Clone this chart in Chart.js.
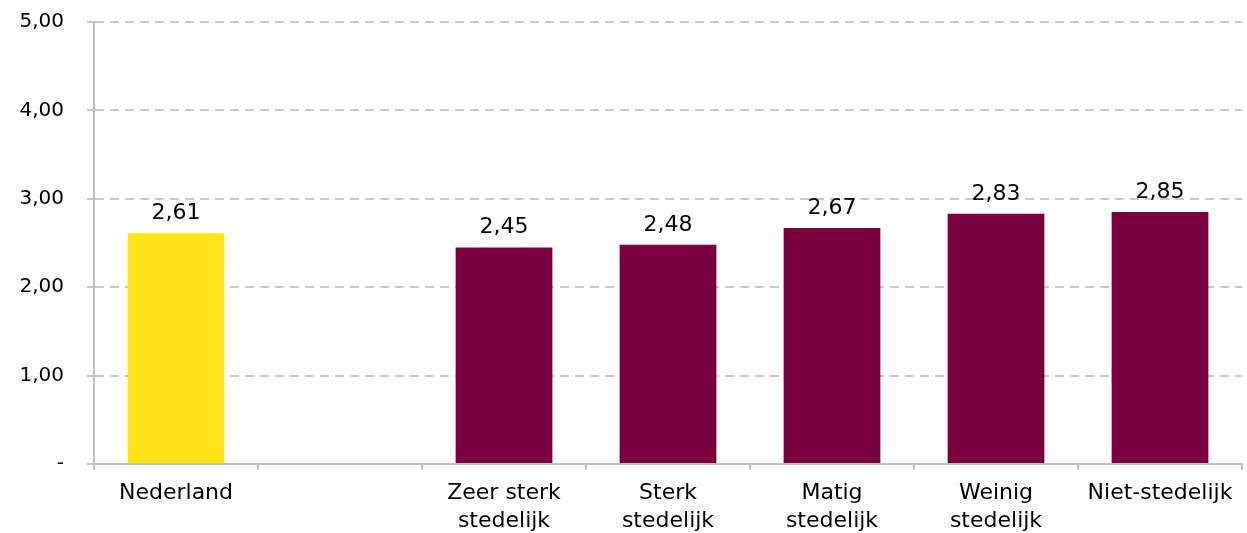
<!DOCTYPE html>
<html>
<head>
<meta charset="utf-8">
<script src="https://cdn.jsdelivr.net/npm/chart.js@4/dist/chart.umd.min.js"></script>
<style>
  html, body { margin: 0; padding: 0; background: #fff; }
  #wrap { width: 1247px; height: 533px; }
</style>
</head>
<body>
<div id="wrap"><canvas id="barChart" width="1247" height="533"></canvas></div>
<script>
const categories = [
  "Nederland",
  "",
  ["Zeer sterk", "stedelijk"],
  ["Sterk", "stedelijk"],
  ["Matig", "stedelijk"],
  ["Weinig", "stedelijk"],
  "Niet-stedelijk",
];
const values = [2.61, null, 2.45, 2.48, 2.67, 2.83, 2.85];
const barColors = ["#FFE312", "#7B0040", "#7B0040", "#7B0040", "#7B0040", "#7B0040", "#7B0040"];
const yTicks = [0, 1, 2, 3, 4, 5];

const fontFamily = "'DejaVu Sans', Verdana, sans-serif";

function fmt(v) {
  return v.toFixed(2).replace(".", ",");
}

// draws the value above each bar
const valueLabels = {
  id: "valueLabels",
  afterDatasetsDraw(chart) {
    const ctx = chart.ctx;
    const meta = chart.getDatasetMeta(0);
    ctx.save();
    ctx.font = "22px " + fontFamily;
    ctx.fillStyle = "#000";
    ctx.textAlign = "center";
    ctx.textBaseline = "alphabetic";
    meta.data.forEach((bar, i) => {
      if (values[i] === null) return;
      ctx.fillText(fmt(values[i]), bar.x, bar.y - 14);
    });
    ctx.restore();
  },
};

const ctx = document.getElementById("barChart").getContext("2d");
new Chart(ctx, {
  type: "bar",
  data: {
    labels: categories,
    datasets: [
      {
        data: values,
        backgroundColor: barColors,
        categoryPercentage: 1,
        barPercentage: 0.59,
      },
    ],
  },
  options: {
    responsive: false,
    animation: false,
    layout: { autoPadding: false, padding: { top: 22, right: 5, left: 0, bottom: 0 } },
    plugins: {
      legend: { display: false },
      tooltip: { enabled: false },
    },
    scales: {
      x: {
        offset: true,
        grid: {
          offset: true,
          drawOnChartArea: false,
          drawTicks: true,
          tickLength: 6,
          color: "#BFBFBF",
          lineWidth: 2,
        },
        border: { color: "#BFBFBF", width: 2 },
        ticks: {
          color: "#000",
          font: { family: fontFamily, size: 22, lineHeight: 1.25 },
          padding: 10,
          maxRotation: 0,
          autoSkip: false,
        },
        afterFit(scale) {
          scale.height = 69;
          scale.paddingLeft = 0;
          scale.paddingRight = 0;
        },
      },
      y: {
        min: 0,
        max: 5,
        afterBuildTicks(scale) {
          scale.ticks = yTicks.map((v) => ({ value: v }));
        },
        grid: {
          color: "#C8C8C8",
          lineWidth: 2,
          tickLength: 7,
        },
        border: { color: "#BFBFBF", width: 2, dash: [9, 6] },
        ticks: {
          color: "#000",
          font: { family: fontFamily, size: 20 },
          padding: 23,
          callback: (v) => (v === 0 ? "-" : fmt(v)),
        },
        afterFit(scale) {
          scale.width = 94;
          scale.paddingTop = 0;
          scale.paddingBottom = 0;
        },
      },
    },
  },
  plugins: [valueLabels],
});
</script>
</body>
</html>
